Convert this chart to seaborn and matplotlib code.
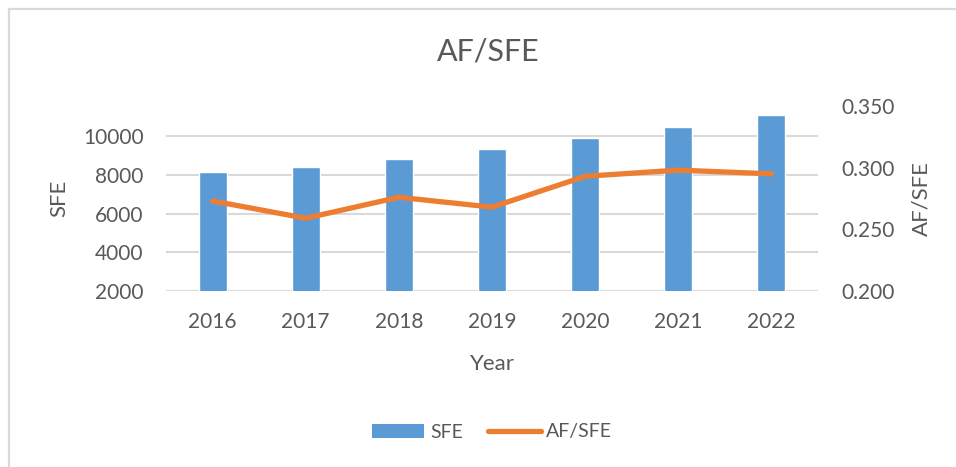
import numpy as np
import pandas as pd
import matplotlib
matplotlib.use("Agg")
import matplotlib.pyplot as plt
from matplotlib.patches import Patch
from matplotlib.lines import Line2D
import seaborn as sns

years = ["2016", "2017", "2018", "2019", "2020", "2021", "2022"]
sfe = [8130, 8420, 8820, 9350, 9910, 10480, 11100]
af_sfe = [0.273, 0.259, 0.276, 0.268, 0.293, 0.298, 0.295]
left_ticks = [2000, 4000, 6000, 8000, 10000]
right_ticks = [0.200, 0.250, 0.300, 0.350]

BAR = "#5B9BD5"
LINE = "#ED7D31"
TXT = "#595959"
GRID = "#D9D9D9"

sns.set_theme(style="white")
plt.rcParams["font.family"] = ["Lato", "DejaVu Sans"]

fig = plt.figure(figsize=(9.56, 4.67), dpi=100)
ax = fig.add_axes([166/956, 1-291/467, (818-166)/956, (291-106)/467])

df = pd.DataFrame({"Year": years, "SFE": sfe, "AF/SFE": af_sfe})
sns.barplot(data=df, x="Year", y="SFE", color=BAR, width=0.3, saturation=1, ax=ax)
ax.set_ylim(2000, 2000 + (291-106)/38.7*2000)
ax.set_yticks(left_ticks)
ax.set_yticklabels([str(t) for t in left_ticks])
ax.yaxis.grid(True, color=GRID, linewidth=1.5)
ax.set_axisbelow(True)
for s in ax.spines.values():
    s.set_visible(False)
ax.tick_params(axis="both", length=0, labelsize=15, labelcolor=TXT)
ax.tick_params(axis="y", pad=16)
ax.tick_params(axis="x", pad=15)
ax.set_xlabel("Year", fontsize=16, color=TXT, labelpad=16)
ax.set_ylabel("SFE", fontsize=16, color=TXT, labelpad=10)
ax.set_xlim(-0.5, len(years) - 0.5)

ax2 = ax.twinx()
sns.lineplot(x=np.arange(len(years)), y=af_sfe, color=LINE, linewidth=3.8,
             ax=ax2, solid_capstyle="round")
ax2.set_ylim(0.2, 0.35)
ax2.set_yticks(right_ticks)
ax2.set_yticklabels([f"{t:.3f}" for t in right_ticks])
ax2.tick_params(axis="y", length=0, labelsize=15, labelcolor=TXT, pad=17)
ax2.set_ylabel("AF/SFE", fontsize=16, color=TXT, labelpad=12)
for s in ax2.spines.values():
    s.set_visible(False)
ax2.grid(False)
ax2.set_xlim(-0.5, len(years) - 0.5)

fig.text(488/956, 1-52/467, "AF/SFE", ha="center", va="center", fontsize=22, color=TXT)

handles = [Patch(facecolor=BAR, edgecolor="none", label="SFE"),
           Line2D([0], [0], color=LINE, linewidth=3.8, solid_capstyle="round", label="AF/SFE")]
fig.legend(handles=handles, loc="center", bbox_to_anchor=(492/956, 1-432/467), ncol=2,
           frameon=False, fontsize=14, labelcolor=TXT, handlelength=2.7,
           columnspacing=1.3, handletextpad=0.3)

fig.add_artist(Line2D([8.5/956, 8.5/956], [0, 1-8.5/467], color=GRID, linewidth=1.6,
                      transform=fig.transFigure))
fig.add_artist(Line2D([8.5/956, 1], [1-8.5/467, 1-8.5/467], color=GRID, linewidth=1.6,
                      transform=fig.transFigure))

fig.savefig("out.png", dpi=100)
